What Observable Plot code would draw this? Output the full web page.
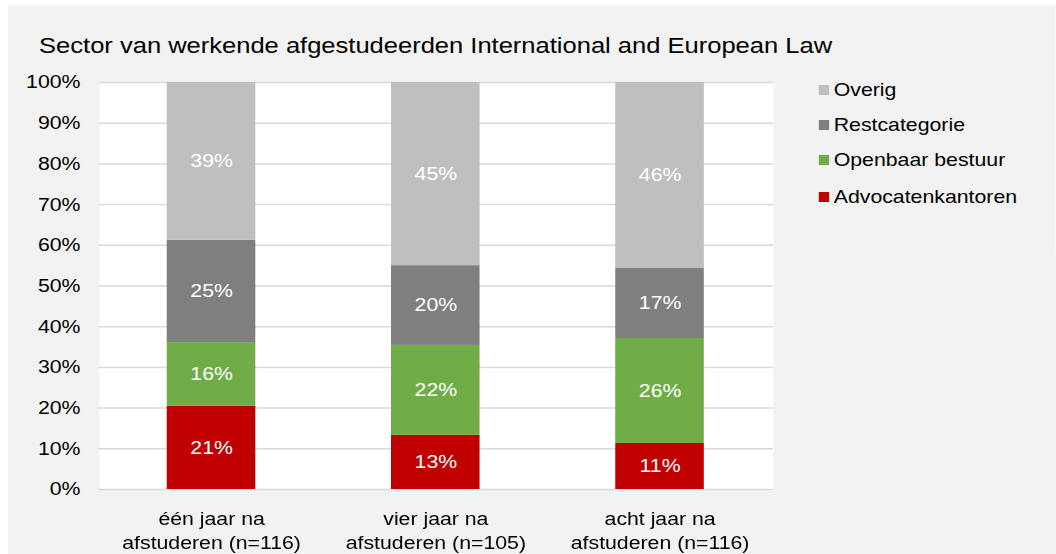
<!DOCTYPE html>
<html><head><meta charset="utf-8">
<script src="https://cdn.jsdelivr.net/npm/d3@7"></script>
<script src="https://cdn.jsdelivr.net/npm/@observablehq/plot@0.6"></script>
<style>
html,body{margin:0;padding:0;background:#fff;width:1056px;height:554px;overflow:hidden;}
#wrap{position:absolute;left:0;top:0;width:918px;height:554px;transform:scaleX(1.15);transform-origin:0 0;font-family:"Liberation Sans",Arial,sans-serif;color:#000;}
#panel{position:absolute;left:7px;top:6px;width:911px;height:548px;background:#f2f2f2;}
#title{position:absolute;left:34px;top:33.5px;font-size:22.2px;line-height:23px;white-space:nowrap;}
#chart{position:absolute;left:0;top:60px;}
#legend{position:absolute;left:712px;top:0;}
.item{position:absolute;left:0;height:18px;display:flex;align-items:center;white-space:nowrap;font-size:18.5px;line-height:18px;}
.sw{display:inline-block;width:8.7px;height:10px;margin-right:4.3px;}
</style></head>
<body>
<div id="wrap">
  <div id="panel"></div>
  <div id="title">Sector van werkende afgestudeerden International and European Law</div>
  <div id="chart"></div>
  <div id="legend"></div>
</div>
<script>
const periods = ["één jaar na\nafstuderen (n=116)", "vier jaar na\nafstuderen (n=105)", "acht jaar na\nafstuderen (n=116)"];
const categories = ["Advocatenkantoren", "Openbaar bestuur", "Restcategorie", "Overig"];
const colors = ["#c00000", "#70ad47", "#7f7f7f", "#bfbfbf"];
const advocatenkantoren = [20.5, 13.3, 11.3];
const openbaarBestuur = [15.6, 22.1, 25.8];
const restcategorie = [25.1, 19.6, 17.2];
const overig = [38.8, 45.0, 45.7];
const yTicks = [0, 10, 20, 30, 40, 50, 60, 70, 80, 90, 100];
const legendOrder = ["Overig", "Restcategorie", "Openbaar bestuur", "Advocatenkantoren"];

const series = [advocatenkantoren, openbaarBestuur, restcategorie, overig];
const rows = [];
categories.forEach((c, i) => periods.forEach((p, j) => rows.push({category: c, period: p, value: series[i][j]})));

const chart = Plot.plot({
  width: 680, height: 494,
  marginLeft: 86, marginRight: 8, marginTop: 22, marginBottom: 65,
  style: {background: "transparent", fontFamily: "Liberation Sans, Arial, sans-serif", fontSize: "18.5px", color: "#000", overflow: "visible"},
  x: {domain: periods, paddingInner: 0.604, paddingOuter: 0.302, label: null},
  y: {domain: [0, 100], label: null},
  color: {domain: categories, range: colors},
  marks: [
    Plot.frame({fill: "white", stroke: null}),
    Plot.ruleY(yTicks, {stroke: "#d9d9d9", strokeWidth: 1.5}),
    Plot.barY(rows, Plot.stackY({order: categories, x: "period", y: "value", fill: "category", z: "category"})),
    Plot.text(rows, Plot.stackY({order: categories, x: "period", y: "value", z: "category", text: d => Math.round(d.value) + "%", fill: "white", fontSize: 18.5})),
    Plot.axisY({ticks: yTicks, tickFormat: d => d + "%", tickSize: 0, tickPadding: 16.5, fontSize: 18.5, fill: "#000"}),
    Plot.axisX({tickSize: 0, tickPadding: 19, lineHeight: 1.28, fontSize: 18.5, fill: "#000"})
  ]
});
document.getElementById("chart").appendChild(chart);

const legendY = [90, 125, 160, 197];
const legend = document.getElementById("legend");
legendOrder.forEach((c, i) => {
  const it = document.createElement("div");
  it.className = "item";
  it.style.top = (legendY[i] - 9) + "px";
  const sw = document.createElement("span");
  sw.className = "sw";
  sw.style.background = colors[categories.indexOf(c)];
  it.appendChild(sw);
  it.appendChild(document.createTextNode(c));
  legend.appendChild(it);
});
</script>
</body></html>
